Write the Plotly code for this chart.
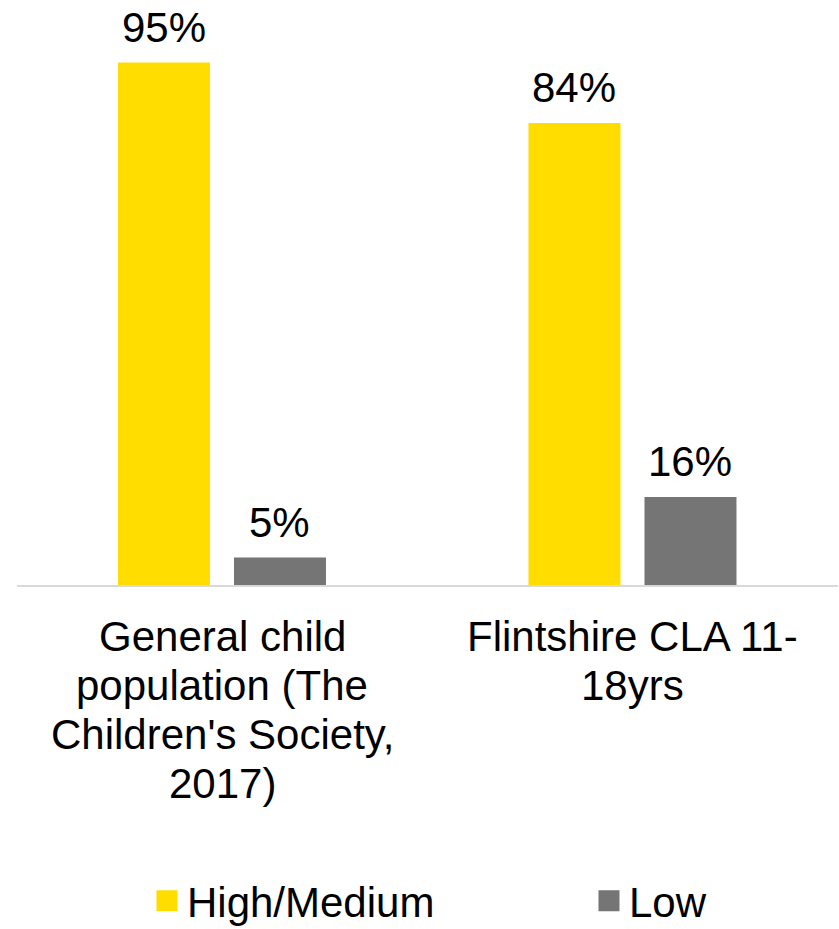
import plotly.graph_objects as go

# Wellbeing levels by group
categories = ["General child population (The Children's Society, 2017)",
              "Flintshire CLA 11-18yrs"]
category_lines = [["General child", "population (The", "Children's Society,", "2017)"],
                  ["Flintshire CLA 11-", "18yrs"]]
series_names = ["High/Medium", "Low"]
high_medium = [95, 84]
low = [5, 16]
series_values = [high_medium, low]
series_colors = ["#FFDD00", "#757575"]

FONT = "Liberation Sans, Arial, sans-serif"
TEXT = "#000000"
BAR_WIDTH = 0.2241
BAR_OFFSETS = [-0.254, 0.0286]
LEGEND_IDS = ["legend", "legend2"]
LEGEND_X = [0.1583, 0.6967]

fig = go.Figure()

for name, vals, color, off, lg in zip(series_names, series_values, series_colors,
                                      BAR_OFFSETS, LEGEND_IDS):
    fig.add_trace(go.Bar(
        x=categories, y=vals, name=name,
        marker=dict(color=color, line=dict(width=0)),
        width=BAR_WIDTH, offset=off,
        showlegend=False, hoverinfo="skip",
    ))
    # legend swatch entry
    fig.add_trace(go.Scatter(
        x=[None], y=[None], name=name, mode="markers", legend=lg,
        marker=dict(symbol="square", size=16, color=color,
                    line=dict(width=5, color=color)),
        showlegend=True, hoverinfo="skip",
    ))

annotations = []
# value labels above each bar
for vals, off in zip(series_values, BAR_OFFSETS):
    for i, v in enumerate(vals):
        annotations.append(dict(
            x=i + off + BAR_WIDTH / 2, y=v, xref="x", yref="y",
            text=f"{v}%", showarrow=False, xanchor="center", yanchor="bottom",
            yshift=10, font=dict(family=FONT, size=42, color=TEXT),
        ))

# category labels under the axis, one annotation per line
for i, lines in enumerate(category_lines):
    for k, line in enumerate(lines):
        annotations.append(dict(
            x=i, y=0, xref="x", yref="paper",
            text=line, showarrow=False, xanchor="center", yanchor="top",
            yshift=-26 - 49 * k, font=dict(family=FONT, size=42, color=TEXT),
        ))

legend_style = dict(
    orientation="h", y=-0.5745, xanchor="left", yanchor="middle",
    xref="paper", yref="paper",
    font=dict(family=FONT, size=42, color=TEXT),
    itemsizing="trace", bgcolor="rgba(0,0,0,0)", borderwidth=0,
)

fig.update_layout(
    width=839, height=929,
    margin=dict(l=17, r=1, t=35, b=344, autoexpand=False),
    paper_bgcolor="white", plot_bgcolor="white",
    barmode="overlay",
    font=dict(family=FONT, size=42, color=TEXT),
    annotations=annotations,
    legend=dict(x=LEGEND_X[0], **legend_style),
    legend2=dict(x=LEGEND_X[1], **legend_style),
    xaxis=dict(
        type="category", range=[-0.5, 1.5], showticklabels=False,
        showline=True, linecolor="#D9D9D9", linewidth=2,
        showgrid=False, zeroline=False, ticks="", fixedrange=True,
    ),
    yaxis=dict(
        range=[0, 100], visible=False, showgrid=False, zeroline=False,
        fixedrange=True,
    ),
)

fig.write_html("out.html")
